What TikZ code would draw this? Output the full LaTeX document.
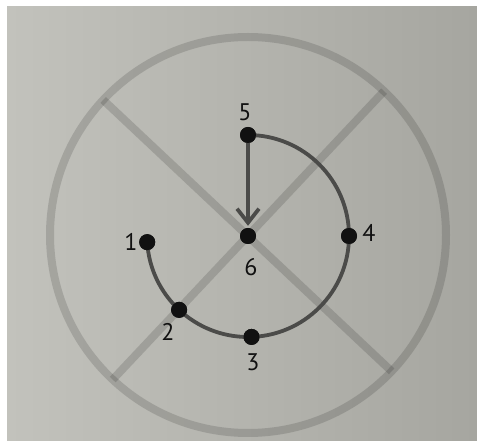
\documentclass[tikz,border=0pt]{standalone}
\usepackage{fontspec}
\setmainfont{PT Sans}
\usetikzlibrary{calc,arrows.meta}
\definecolor{bgL}{HTML}{C2C2BC}
\definecolor{bgR}{HTML}{A6A6A0}
\definecolor{curve}{HTML}{4B4B49}
\definecolor{dotc}{HTML}{111111}
\tikzset{
  guide/.style={draw=black, draw opacity=0.14, line width=8pt},
  path/.style={draw=curve, line width=3.8pt},
  dot/.style={circle, fill=dotc, inner sep=0pt, minimum size=16pt},
  lab/.style={font=\fontsize{24}{24}\selectfont, text=dotc, inner sep=0pt}
}
\begin{document}
\begin{tikzpicture}[x=1pt,y=-1pt]
\useasboundingbox (0,0) rectangle (477,443);
\fill[white] (0,0) rectangle (477,443);
\shade[left color=bgL, right color=bgR] (7,7) rectangle (477,441);
% big crossed circle
\coordinate (c) at (248,235);
\draw[guide] (c) circle[radius=198];
\coordinate (xa1) at ($(c)+(-137:198)$);
\coordinate (xa2) at ($(c)+(43.5:198)$);
\coordinate (xb1) at ($(c)+(-46.6:198)$);
\coordinate (xb2) at ($(c)+(-226.9:198)$);
\draw[guide] (xa1) -- (xa2);
\draw[guide] (xb1) -- (xb2);
% points
\node[dot] (n6) at (248,236) {};
\node[dot] (n5) at ($(n6)+(-90:101)$) {};
\node[dot] (n4) at ($(n6)+(0:101)$) {};
\node[dot] (n3) at ($(n6)+(88:101)$) {};
\node[dot] (n2) at ($(n6)+(133:101)$) {};
\node[dot] (n1) at ($(n6)+(176.5:101)$) {};
% path 5 -> 4 -> 3 -> 2 -> 1
\draw[path] (n5.center) arc[start angle=-90, end angle=176.5, radius=101];
% arrow 5 -> 6
\draw[path, -{Straight Barb[length=14pt, width=22pt, line width=3.8pt]}, shorten >=2pt] (n5.center) -- (n6.north);
% redraw dots on top
\foreach \n in {n1,n2,n3,n4,n5,n6} \fill[dotc] (\n) circle[radius=8];
% labels
\node[lab] (l5) at (245,112) {5};
\node[lab] (l4) at (369,233) {4};
\node[lab] (l6) at (251,267) {6};
\node[lab] (l3) at (253,362) {3};
\node[lab] (l2) at (168,332) {2};
\node[lab] (l1) at (131,242) {1};
\end{tikzpicture}
\end{document}
